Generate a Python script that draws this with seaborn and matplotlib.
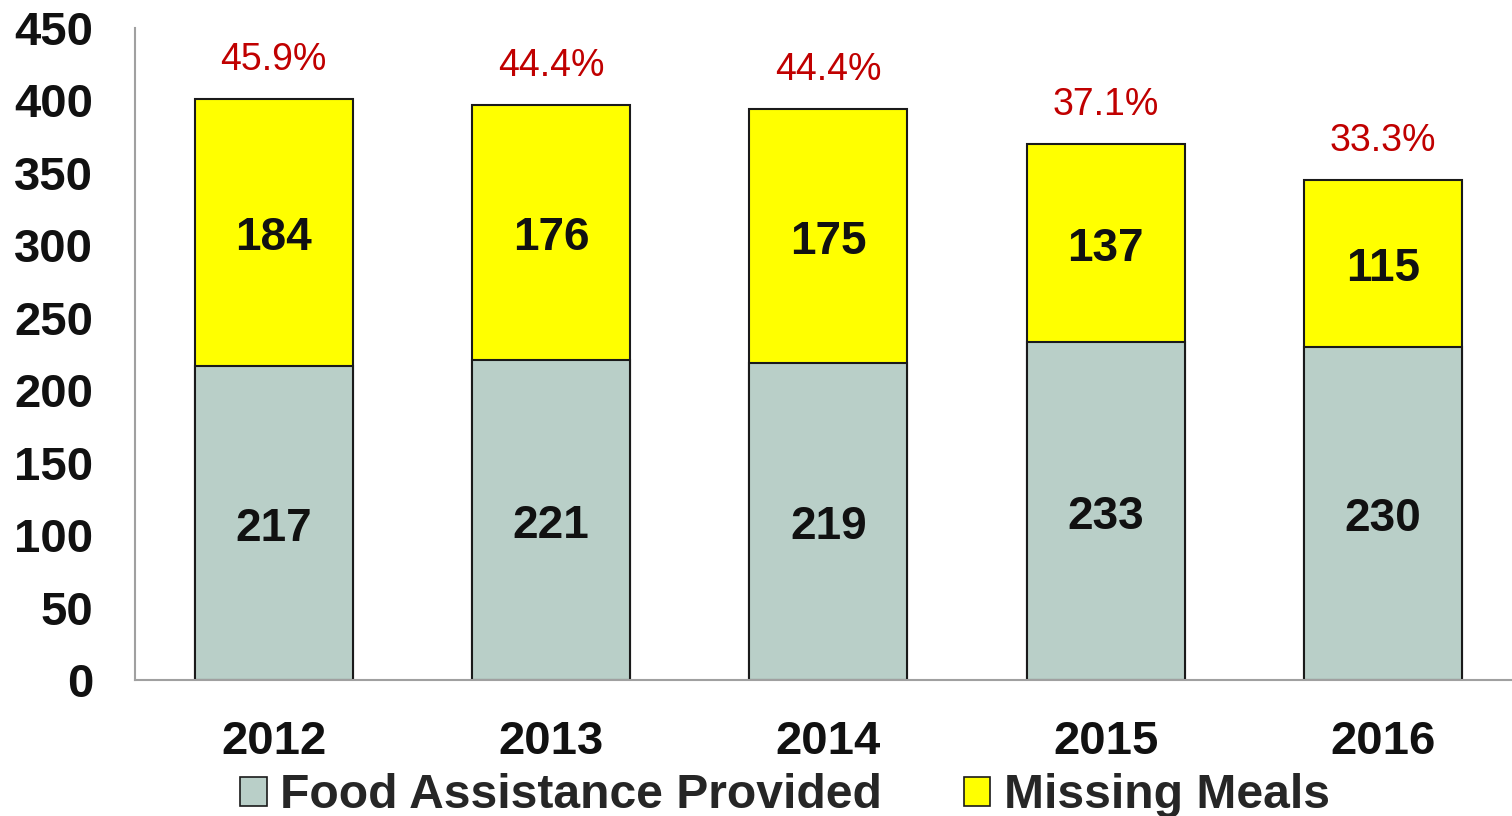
import pandas as pd
import matplotlib.pyplot as plt
import seaborn as sns
from matplotlib.patches import Patch

# chart values
years = ['2012', '2013', '2014', '2015', '2016']
food_assistance = [217, 221, 219, 233, 230]
missing_meals = [184, 176, 175, 137, 115]
pct_labels = ['45.9%', '44.4%', '44.4%', '37.1%', '33.3%']

food_color = '#B9CFC8'
missing_color = '#FFFF00'

sns.set_style('white')
plt.rcParams['font.family'] = ['Liberation Sans', 'DejaVu Sans']

df = pd.DataFrame({'Year': years, 'Food': food_assistance, 'Missing': missing_meals})
df['Total'] = df['Food'] + df['Missing']

fig = plt.figure(figsize=(15.12, 8.16), dpi=100)
ax = fig.add_axes([135 / 1512, 136 / 816, 1 - 135 / 1512, 652 / 816])

# stacked bars: total in yellow, food assistance drawn over it
sns.barplot(data=df, x='Year', y='Total', color=missing_color, width=0.57,
            edgecolor='#1a1a1a', linewidth=1.5, saturation=1, ax=ax)
sns.barplot(data=df, x='Year', y='Food', color=food_color, width=0.57,
            edgecolor='#1a1a1a', linewidth=1.5, saturation=1, ax=ax)

# labels inside bars and percentages above
for i, row in df.iterrows():
    ax.text(i, row['Food'] / 2 - 4, str(row['Food']), ha='center', va='center',
            fontsize=33, fontweight='bold', color='#111111')
    ax.text(i, row['Food'] + row['Missing'] / 2 - 4, str(row['Missing']), ha='center', va='center',
            fontsize=33, fontweight='bold', color='#111111')
    ax.text(i, row['Total'] + 27, pct_labels[i], ha='center', va='center',
            fontsize=27, color='#C00000')

ax.set_ylim(0, 450)
ax.set_xlim(-0.5, 4.465)
ax.set_yticks(range(0, 451, 50))
ax.set_xlabel('')
ax.set_ylabel('')
ax.tick_params(axis='both', length=0, labelsize=34)
ax.tick_params(axis='y', pad=30)
ax.tick_params(axis='x', pad=29)
for lbl in ax.get_xticklabels() + ax.get_yticklabels():
    lbl.set_fontweight('bold')
    lbl.set_color('#111111')

for side in ['top', 'right']:
    ax.spines[side].set_visible(False)
for side in ['left', 'bottom']:
    ax.spines[side].set_color('#A0A0A0')
    ax.spines[side].set_linewidth(1.5)

handles = [Patch(facecolor=food_color, edgecolor='#1a1a1a', linewidth=1.2),
           Patch(facecolor=missing_color, edgecolor='#1a1a1a', linewidth=1.2)]
fig.legend(handles, ['Food Assistance Provided', 'Missing Meals'], loc='center',
           bbox_to_anchor=(785 / 1512, 20 / 816), ncol=2, frameon=False,
           prop={'size': 34.6, 'weight': 'bold'}, handlelength=0.55, handleheight=0.55,
           handletextpad=0.28, columnspacing=1.7, borderpad=0)

fig.savefig('out.png', dpi=100)
